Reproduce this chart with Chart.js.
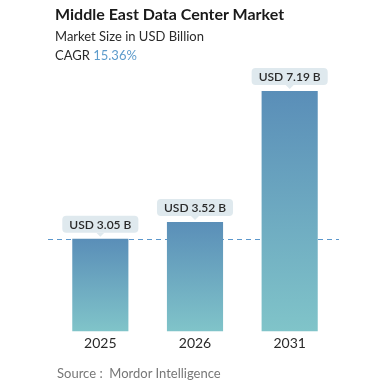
<!DOCTYPE html>
<html lang="en">
<head>
<meta charset="UTF-8">
<title>Middle East Data Center Market</title>
<script src="https://cdn.jsdelivr.net/npm/chart.js"></script>
<style>
  body { margin: 0; background: #fff; font-family: Lato, "DejaVu Sans", sans-serif; }
  .wrap { position: relative; width: 385px; height: 385px; overflow: hidden; }
  canvas { position: absolute; left: 0; top: 0; }
  .title { position: absolute; left: 55px; top: 4px; font-size: 16px; font-weight: 700; color: #1a1a1a; white-space: nowrap; }
  .sub { position: absolute; left: 55px; top: 28px; font-size: 13px; color: #2b2b2b; white-space: nowrap; }
  .cagr { position: absolute; left: 55px; top: 47px; font-size: 13px; color: #2b2b2b; white-space: nowrap; }
  .cagr span { color: #5d9ccc; }
  .source { position: absolute; left: 57px; top: 365px; font-size: 13px; color: #777; white-space: nowrap; }
</style>
</head>
<body>
<div class="wrap">
  <canvas id="chart" width="385" height="385"></canvas>
  <div class="title">Middle East Data Center Market</div>
  <div class="sub">Market Size in USD Billion</div>
  <div class="cagr">CAGR <span>15.36%</span></div>
  <div class="source">Source :&nbsp; Mordor Intelligence</div>
</div>
<script>
  const years = ["2025", "2026", "2031"];
  const sizes = [3.05, 3.52, 7.19];
  const valueLabels = ["USD 3.05 B", "USD 3.52 B", "USD 7.19 B"];

  function barGradient(context) {
    const chart = context.chart;
    if (!chart.chartArea || !chart.scales.y) return "#6fa6c0";
    const y = chart.scales.y;
    const top = y.getPixelForValue(sizes[context.dataIndex]);
    const bottom = y.getPixelForValue(y.min);
    const g = chart.ctx.createLinearGradient(0, top, 0, bottom);
    g.addColorStop(0, "#5a8eb8");
    g.addColorStop(1, "#80c4c9");
    return g;
  }

  // dashed reference line at the first year's value
  const refLine = {
    id: "refLine",
    beforeDatasetsDraw(chart) {
      const { ctx, chartArea, scales } = chart;
      const yy = Math.round(scales.y.getPixelForValue(sizes[0])) + 0.5;
      ctx.save();
      ctx.strokeStyle = "#5b97cc";
      ctx.lineWidth = 1;
      ctx.setLineDash([5, 4]);
      ctx.beginPath();
      ctx.moveTo(chartArea.left - 5, yy);
      ctx.lineTo(chartArea.right + 2, yy);
      ctx.stroke();
      ctx.restore();
    }
  };

  // value bubbles above each bar
  const bubbles = {
    id: "bubbles",
    afterDatasetsDraw(chart) {
      const ctx = chart.ctx;
      const meta = chart.getDatasetMeta(0);
      ctx.save();
      ctx.font = "600 12px Lato, sans-serif";
      ctx.textAlign = "center";
      ctx.textBaseline = "middle";
      meta.data.forEach((bar, i) => {
        const txt = valueLabels[i];
        const w = ctx.measureText(txt).width + 14;
        const h = 17;
        const x = bar.x;
        const bottom = bar.y - 6;
        const topY = bottom - h;
        ctx.fillStyle = "#dfe9ee";
        ctx.beginPath();
        ctx.roundRect(x - w / 2, topY, w, h, 4);
        ctx.fill();
        ctx.beginPath();
        ctx.moveTo(x - 4, bottom);
        ctx.lineTo(x, bottom + 4);
        ctx.lineTo(x + 4, bottom);
        ctx.closePath();
        ctx.fill();
        ctx.fillStyle = "#2a2a2a";
        ctx.fillText(txt, x, topY + h / 2 + 0.5);
      });
      ctx.restore();
    }
  };

  new Chart(document.getElementById("chart"), {
    type: "bar",
    data: {
      labels: years,
      datasets: [{
        data: sizes,
        backgroundColor: barGradient,
        borderWidth: 0,
        barPercentage: 0.593,
        categoryPercentage: 1
      }]
    },
    options: {
      responsive: false,
      animation: false,
      layout: { padding: { left: 53, right: 48, top: 91, bottom: 29 } },
      plugins: { legend: { display: false }, tooltip: { enabled: false } },
      scales: {
        x: {
          grid: { display: false, drawTicks: false },
          border: { display: false },
          ticks: { color: "#2a2a2a", padding: 4, font: { family: "Lato", size: 14 } }
        },
        y: { display: false, min: 0.46, max: 7.19 }
      }
    },
    plugins: [refLine, bubbles]
  });
</script>
</body>
</html>
